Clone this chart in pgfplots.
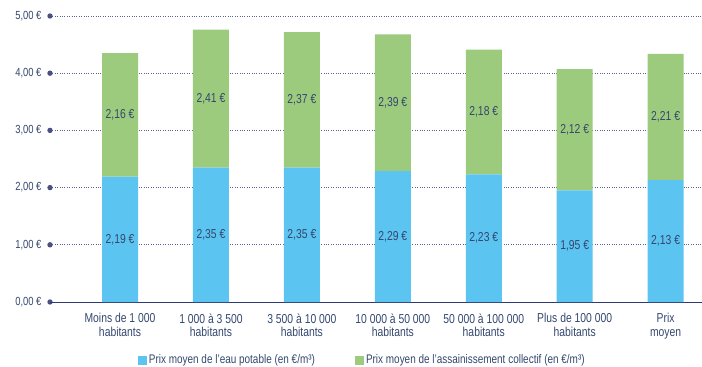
\documentclass[border=0pt]{standalone}
\usepackage{pgfplots}
\pgfplotsset{compat=1.18}
\usepackage{pgfplotstable}
\usepackage{fontspec}
\setmainfont{Liberation Sans}[FakeStretch=0.8]
\definecolor{eaublue}{HTML}{5BC4F1}
\definecolor{assgreen}{HTML}{9DCB7E}
\definecolor{navy}{HTML}{2E3A73}
\definecolor{gridc}{HTML}{5A6294}
\definecolor{dotc}{HTML}{4A5082}
\definecolor{txt}{HTML}{34476E}

\pgfplotstableread{
x eau ass
0 2.19 2.16
1 2.35 2.41
2 2.35 2.37
3 2.29 2.39
4 2.23 2.18
5 1.95 2.12
6 2.13 2.21
}\prix

\begin{document}
\begin{tikzpicture}
\begin{axis}[
  at={(0,0)}, anchor=south west,
  scale only axis, width=652bp, height=286bp,
  xmin=-0.77, xmax=6.4, ymin=0, ymax=5,
  ybar stacked, bar width=36bp,
  /pgf/number format/assume math mode=true,
  axis line style={draw=none},
  tick style={draw=none},
  ytick={0,1,2,3,4,5},
  yticklabel={\pgfmathprintnumber[fixed,fixed zerofill,precision=2,use comma]{\tick}~€},
  yticklabel style={font=\fontsize{11.8}{13}\selectfont, text=txt, xshift=-5bp},
  ymajorgrids,
  grid style={gridc, line width=0.9bp, dash pattern=on 0.9bp off 1.5bp},
  xtick={0,...,6},
  xticklabels={{Moins de 1 000\\habitants},{1 000 à 3 500\\habitants},{3 500 à 10 000\\habitants},{10 000 à 50 000\\habitants},{50 000 à 100 000\\habitants},{Plus de 100 000\\habitants},{Prix\\moyen}},
  xticklabel style={align=center, font=\fontsize{13}{13.5}\selectfont, text=txt, yshift=-8bp},
  legend style={at={(0.479,0)}, anchor=center, yshift=-58bp, draw=none, fill=none,
    legend columns=2, font=\fontsize{12.5}{13}\selectfont, text=txt,
    /tikz/every even column/.append style={column sep=38bp}},
  legend image code/.code={\fill[#1] (0bp,-4.5bp) rectangle (9bp,4.5bp);},
  nodes near coords={\pgfmathprintnumber[fixed,fixed zerofill,precision=2,use comma]{\pgfplotspointmeta}~€},
  every node near coord/.append style={font=\fontsize{13}{14}\selectfont, text=txt, anchor=center},
  clip=false,
]
\addplot[fill=eaublue, draw=none, point meta=explicit]
  table[x=x, y=eau, meta=eau] {\prix};
\addlegendentry{Prix moyen de l'eau potable (en €/m³)}
\addplot[fill=assgreen, draw=none, point meta=explicit]
  table[x=x, y=ass, meta=ass] {\prix};
\addlegendentry{Prix moyen de l'assainissement collectif (en €/m³)}
\draw[navy, line width=1bp] (rel axis cs:0,0) -- (rel axis cs:1,0);
\foreach \t in {0,...,5} {
  \edef\temp{\noexpand\fill[dotc] (axis cs:-0.77,\t) circle (2.7bp);}
  \temp
}
\end{axis}
\pgfresetboundingbox
\path (-50bp,-65bp) rectangle (652bp,302bp);
\end{tikzpicture}
\end{document}
